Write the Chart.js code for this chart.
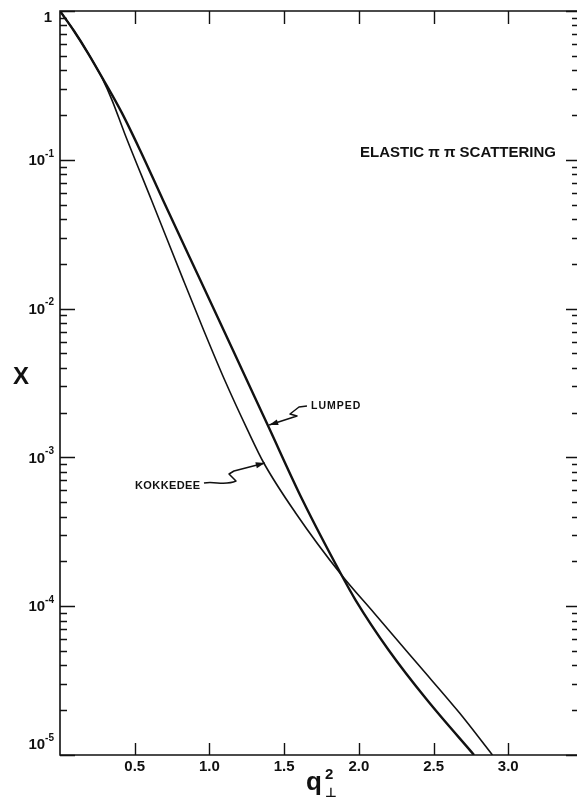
<!DOCTYPE html>
<html>
<head>
<meta charset="utf-8">
<script src="https://cdn.jsdelivr.net/npm/chart.js@4/dist/chart.umd.min.js"></script>
<style>
  html, body { margin: 0; padding: 0; background: #fff; }
  #wrap { width: 577px; height: 800px; }
</style>
</head>
<body>
<div id="wrap"><canvas id="chart" width="577" height="800"></canvas></div>
<script>
// q_perp^2 values and X values
const lumpedQ = [0, 0.094, 0.187, 0.288, 0.415, 0.536, 0.689, 0.938, 1.157, 1.390, 1.623, 1.884, 1.978, 2.199, 2.457, 2.771]
const lumpedX = [1, 0.734, 0.522, 0.349, 0.206, 0.116, 0.0537, 0.0156, 0.00527, 0.00165, 5.17e-4, 1.62e-4, 1.10e-4, 5.08e-5, 2.34e-5, 1e-5]

const kokkedeeQ = [0, 0.094, 0.187, 0.281, 0.348, 0.432, 0.612, 0.825, 0.961, 1.102, 1.255, 1.364, 1.577, 1.884, 2.102, 2.400, 2.673, 2.894]
const kokkedeeX = [1, 0.734, 0.522, 0.355, 0.252, 0.151, 0.0537, 0.0156, 0.00718, 0.00331, 0.00153, 9.17e-4, 4.23e-4, 1.62e-4, 9.0e-5, 4.02e-5, 1.92e-5, 1e-5]

const xTicks = [0.5, 1.0, 1.5, 2.0, 2.5, 3.0]
const yDecades = [0, -1, -2, -3, -4, -5]

// where the label arrows touch the curves
const lumpedArrowAt = { x: 1.390, y: 0.00165 }
const kokkedeeArrowAt = { x: 1.364, y: 9.17e-4 }

const INK = '#111'
const FONT = '"Liberation Sans", Arial, sans-serif'

const toPoints = (qs, xs) => qs.map((q, i) => ({ x: q, y: xs[i] }))

function arrowHead(ctx, fx, fy, tx, ty) {
  const ang = Math.atan2(ty - fy, tx - fx)
  ctx.beginPath()
  ctx.moveTo(tx, ty)
  ctx.lineTo(tx - 9 * Math.cos(ang) + 3 * Math.sin(ang), ty - 9 * Math.sin(ang) - 3 * Math.cos(ang))
  ctx.lineTo(tx - 9 * Math.cos(ang) - 3 * Math.sin(ang), ty - 9 * Math.sin(ang) + 3 * Math.cos(ang))
  ctx.closePath()
  ctx.fill()
}

const decor = {
  id: 'decor',
  afterDraw(chart) {
    const { ctx, chartArea: a, scales: { x, y } } = chart
    ctx.save()
    ctx.strokeStyle = INK
    ctx.fillStyle = INK

    // frame (left, bottom, top)
    ctx.lineWidth = 1.6
    ctx.beginPath()
    ctx.moveTo(a.right, a.top); ctx.lineTo(a.left, a.top)
    ctx.lineTo(a.left, a.bottom); ctx.lineTo(a.right, a.bottom)
    ctx.stroke()

    // inward x ticks, bottom and top
    ctx.lineWidth = 1.4
    ctx.beginPath()
    xTicks.forEach(v => {
      const px = Math.round(x.getPixelForValue(v)) + 0.5
      ctx.moveTo(px, a.bottom); ctx.lineTo(px, a.bottom - 12)
      ctx.moveTo(px, a.top); ctx.lineTo(px, a.top + 13)
    })
    ctx.stroke()

    // inward log ticks, left and right
    ctx.beginPath()
    yDecades.forEach(e => {
      for (let m = 1; m <= 9; m++) {
        const v = m * Math.pow(10, e)
        if (v > 1) break
        const py = Math.round(y.getPixelForValue(v)) + 0.5
        const major = m === 1
        ctx.moveTo(a.left, py); ctx.lineTo(a.left + (major ? 15 : 7), py)
        ctx.moveTo(a.right, py); ctx.lineTo(a.right - (major ? 11 : 5), py)
      }
    })
    ctx.stroke()

    // y labels 1, 10^-1 ... 10^-5
    ctx.textBaseline = 'middle'
    yDecades.forEach(e => {
      const py = y.getPixelForValue(Math.pow(10, e))
      if (e === 0) {
        ctx.font = 'bold 15px ' + FONT
        ctx.textAlign = 'right'
        ctx.fillText('1', 52, py + 7)
        return
      }
      const shift = e === -5 ? -10 : 1
      ctx.font = 'bold 10px ' + FONT
      ctx.textAlign = 'right'
      const expW = ctx.measureText('-' + -e).width
      ctx.fillText('-' + -e, 54, py + shift - 7)
      ctx.font = 'bold 15px ' + FONT
      ctx.fillText('10', 54 - expW, py + shift)
    })

    // axis titles
    ctx.textAlign = 'center'
    ctx.font = 'bold 24px ' + FONT
    ctx.fillText('X', 21, 377)
    ctx.textAlign = 'left'
    ctx.textBaseline = 'alphabetic'
    ctx.font = 'bold 26px ' + FONT
    ctx.fillText('q', 306, 790)
    ctx.font = 'bold 15px ' + FONT
    ctx.fillText('2', 325, 779)
    ctx.font = 'bold 13px "DejaVu Sans", sans-serif'
    ctx.fillText('⊥', 325, 797)

    // annotations
    ctx.font = 'bold 15px ' + FONT
    ctx.textAlign = 'right'
    ctx.fillText('ELASTIC π π SCATTERING', 556, 157)

    ctx.textAlign = 'left'
    ctx.font = 'bold 10.5px ' + FONT
    ctx.letterSpacing = '1px'
    ctx.fillText('LUMPED', 311, 409)
    ctx.font = 'bold 11px ' + FONT
    ctx.letterSpacing = '0.4px'
    ctx.fillText('KOKKEDEE', 135, 489)
    ctx.letterSpacing = '0px'

    ctx.lineWidth = 1.5
    ctx.lineJoin = 'round'
    // LUMPED leader: short dash, zigzag, long arrow
    const lx = x.getPixelForValue(lumpedArrowAt.x) + 1.5
    const ly = y.getPixelForValue(lumpedArrowAt.y)
    ctx.beginPath()
    ctx.moveTo(307, 406); ctx.lineTo(299, 407)
    ctx.lineTo(290, 414); ctx.lineTo(297, 416)
    ctx.lineTo(lx, ly)
    ctx.stroke()
    arrowHead(ctx, 297, 416, lx, ly)
    // KOKKEDEE leader: wavy tail, hook, long arrow
    const kx = x.getPixelForValue(kokkedeeArrowAt.x) + 1
    const ky = y.getPixelForValue(kokkedeeArrowAt.y)
    ctx.beginPath()
    ctx.moveTo(204, 483)
    ctx.bezierCurveTo(215, 481, 225, 486, 236, 481)
    ctx.lineTo(229, 474); ctx.lineTo(234, 471)
    ctx.lineTo(kx, ky)
    ctx.stroke()
    arrowHead(ctx, 234, 471, kx, ky)

    ctx.restore()
  }
}

new Chart(document.getElementById('chart'), {
  type: 'line',
  data: {
    datasets: [
      {
        label: 'Lumped',
        data: toPoints(lumpedQ, lumpedX),
        borderColor: INK,
        borderWidth: 2.4,
        pointRadius: 0,
        cubicInterpolationMode: 'monotone',
      },
      {
        label: 'Kokkedee',
        data: toPoints(kokkedeeQ, kokkedeeX),
        borderColor: INK,
        borderWidth: 1.6,
        pointRadius: 0,
        cubicInterpolationMode: 'monotone',
      },
    ],
  },
  options: {
    responsive: false,
    devicePixelRatio: 1,
    animation: false,
    layout: { padding: { top: 11, right: 0, left: 0, bottom: 0 } },
    scales: {
      x: {
        type: 'linear',
        min: 0,
        max: 3.46,
        grid: { display: false, drawTicks: false },
        border: { display: false },
        afterFit: s => { s.height = 45 },
        afterBuildTicks: s => { s.ticks = xTicks.map(v => ({ value: v })) },
        ticks: {
          padding: 3,
          color: INK,
          maxRotation: 0,
          font: { family: FONT, size: 15, weight: 'bold' },
          callback: v => v.toFixed(1),
        },
      },
      y: {
        type: 'logarithmic',
        min: 1e-5,
        max: 1,
        grid: { display: false, drawTicks: false },
        border: { display: false },
        afterFit: s => { s.width = 60 },
        ticks: { display: false },
      },
    },
    plugins: {
      legend: { display: false },
      tooltip: { enabled: false },
    },
  },
  plugins: [decor],
})
</script>
</body>
</html>
